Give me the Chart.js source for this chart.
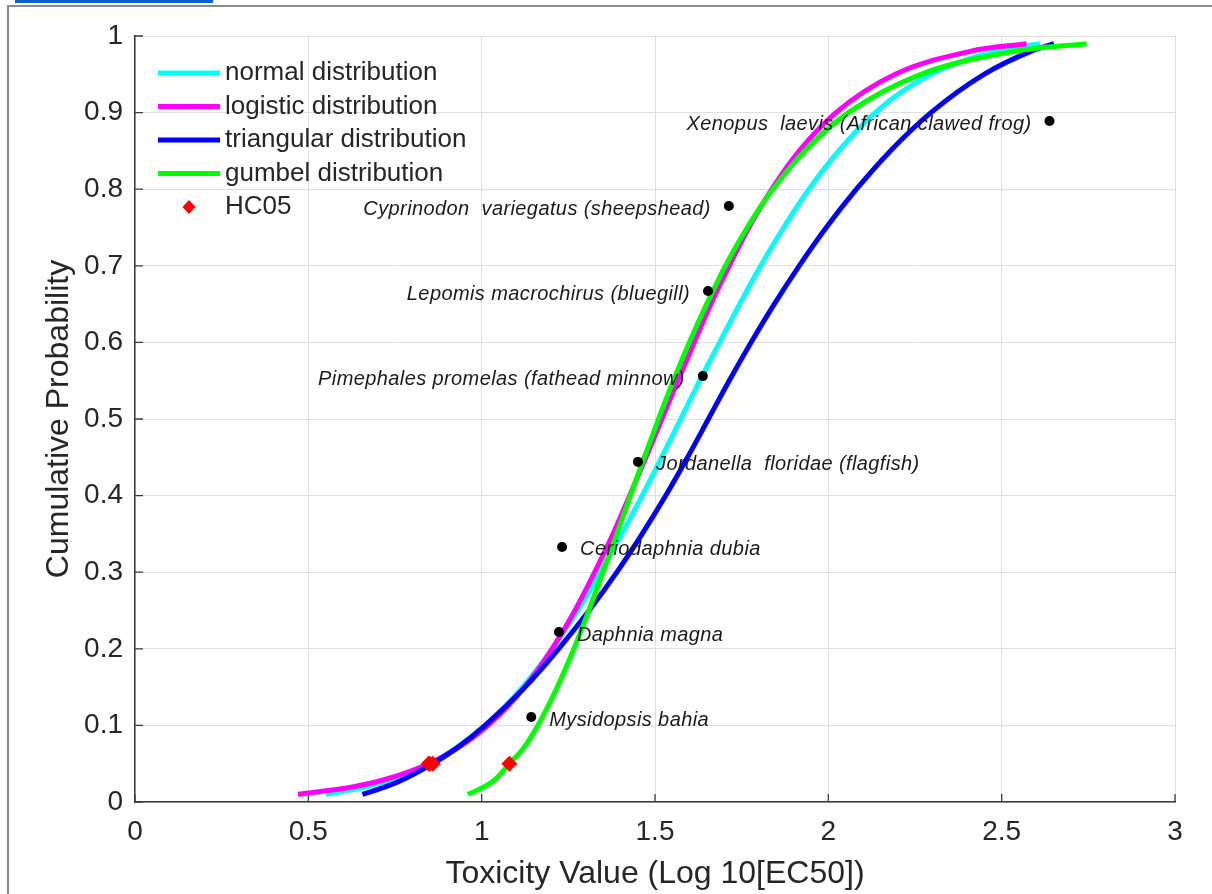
<!DOCTYPE html>
<html>
<head>
<meta charset="utf-8">
<script src="https://cdn.jsdelivr.net/npm/chart.js@4.4.0/dist/chart.umd.min.js"></script>
<style>
html,body{margin:0;padding:0;background:#fff;width:1212px;height:894px;overflow:hidden;}
#frame{position:absolute;left:7px;top:5px;width:1210px;height:900px;border-left:2px solid #8c8c8c;border-top:2px solid #8c8c8c;}
#bar{position:absolute;left:15px;top:0;width:198px;height:3px;background:#0a64c8;}
#wrap{position:absolute;left:0;top:0;width:1212px;height:894px;}
</style>
</head>
<body>
<div id="frame"></div>
<div id="bar"></div>
<div id="wrap"><canvas id="c" width="1212" height="894"></canvas></div>
<script>
// ---- data ----
const probLevels   = [0.01,0.02,0.03,0.05,0.07,0.10,0.15,0.20,0.25,0.30,0.35,0.40,0.45,0.50,0.55,0.60,0.65,0.70,0.75,0.80,0.85,0.90,0.95,0.98,0.99];
const normalX      = [0.551,0.670,0.746,0.850,0.925,1.010,1.118,1.204,1.277,1.343,1.404,1.463,1.519,1.574,1.629,1.686,1.744,1.805,1.871,1.944,2.030,2.135,2.295,2.480,2.610];
const logisticX    = [0.470,0.631,0.726,0.847,0.929,1.018,1.124,1.203,1.269,1.326,1.379,1.427,1.474,1.520,1.566,1.613,1.661,1.714,1.771,1.837,1.916,2.022,2.193,2.409,2.572];
const triangularX  = [0.656,0.724,0.777,0.859,0.927,1.010,1.125,1.222,1.310,1.390,1.463,1.531,1.594,1.654,1.714,1.777,1.844,1.916,1.994,2.081,2.179,2.296,2.449,2.584,2.651];
const gumbelX      = [0.960,1.008,1.040,1.080,1.120,1.162,1.218,1.266,1.309,1.350,1.390,1.429,1.469,1.510,1.553,1.599,1.649,1.703,1.766,1.840,1.932,2.058,2.267,2.538,2.745];

const hc05X = [0.850, 0.847, 0.859, 1.080];
const hc05Y = [0.05, 0.05, 0.05, 0.05];

const speciesNames = ['Mysidopsis bahia','Daphnia magna','Ceriodaphnia dubia','Jordanella  floridae (flagfish)',
                      'Pimephales promelas (fathead minnow)','Lepomis macrochirus (bluegill)',
                      'Cyprinodon  variegatus (sheepshead)','Xenopus  laevis (African clawed frog)'];
const speciesX = [1.143,1.223,1.232,1.451,1.638,1.653,1.713,2.638];
const speciesY = [0.111,0.222,0.333,0.444,0.556,0.667,0.778,0.889];

const xTicks = [0,0.5,1,1.5,2,2.5,3];
const xTickLabels = ['0','0.5','1','1.5','2','2.5','3'];
const yTicks = [0,0.1,0.2,0.3,0.4,0.5,0.6,0.7,0.8,0.9,1];
const yTickLabels = ['0','0.1','0.2','0.3','0.4','0.5','0.6','0.7','0.8','0.9','1'];

const seriesNames = ['normal distribution','logistic distribution','triangular distribution','gumbel distribution'];
const seriesX = [normalX, logisticX, triangularX, gumbelX];
const seriesColors = ['#00ffff','#ff00ff','#0000ff','#00ff00'];

// ---- chart ----
const FONT = "Arial, 'Liberation Sans', Helvetica, sans-serif";
const TXT = '#262626';

const curveSets = seriesX.map((xs, i) => ({
  label: seriesNames[i],
  data: xs.map((x, k) => ({x: x, y: probLevels[k]})),
  showLine: true,
  borderColor: seriesColors[i],
  backgroundColor: seriesColors[i],
  borderWidth: 5,
  pointRadius: 0,
  pointHoverRadius: 0,
  cubicInterpolationMode: 'monotone',
  fill: false,
  order: 10 - i
}));

const pointSet = {
  label: 'species',
  data: speciesX.map((x, k) => ({x: x, y: speciesY[k]})),
  showLine: false,
  pointRadius: 5,
  pointBorderWidth: 0,
  backgroundColor: '#000',
  borderColor: '#000',
  order: 2
};
const hcSet = {
  label: 'HC05',
  data: hc05X.map((x, k) => ({x: x, y: hc05Y[k]})),
  showLine: false,
  pointStyle: 'rectRot',
  pointRadius: 8,
  pointBorderWidth: 0,
  backgroundColor: '#ff0000',
  borderColor: '#ff0000',
  order: 1
};

const inwardTicks = {
  id: 'inwardTicks',
  beforeDatasetsDraw(chart) {
    const {ctx, chartArea: a, scales: {x, y}} = chart;
    ctx.save();
    ctx.strokeStyle = '#3c3c3c';
    ctx.lineWidth = 1.3;
    ctx.beginPath();
    xTicks.forEach(v => { const px = x.getPixelForValue(v); ctx.moveTo(px, a.bottom); ctx.lineTo(px, a.bottom - 8); });
    yTicks.forEach(v => { const py = y.getPixelForValue(v); ctx.moveTo(a.left, py); ctx.lineTo(a.left + 8, py); });
    ctx.stroke();
    ctx.restore();
  }
};

const labelRight = [true, true, true, true, false, false, false, false];
const speciesLabels = {
  id: 'speciesLabels',
  afterDatasetsDraw(chart) {
    const {ctx, scales: {x, y}} = chart;
    ctx.save();
    ctx.font = "italic 20px " + FONT;
    ctx.fillStyle = '#1a1a1a';
    ctx.textBaseline = 'middle';
    try { ctx.letterSpacing = '0.4px'; } catch (e) {}
    speciesNames.forEach((name, k) => {
      const px = x.getPixelForValue(speciesX[k]);
      const py = y.getPixelForValue(speciesY[k]) + 3;
      if (labelRight[k]) { ctx.textAlign = 'left'; ctx.fillText(name, px + 18, py); }
      else { ctx.textAlign = 'right'; ctx.fillText(name, px - 18, py); }
    });
    ctx.restore();
  }
};

const customLegend = {
  id: 'customLegend',
  afterDraw(chart) {
    const {ctx, chartArea: a} = chart;
    ctx.save();
    ctx.font = "26px " + FONT;
    ctx.fillStyle = TXT;
    ctx.textBaseline = 'middle';
    ctx.textAlign = 'left';
    const rowY = k => a.top + 37 + k * 33.5;
    seriesNames.forEach((name, k) => {
      const yy = rowY(k);
      ctx.strokeStyle = seriesColors[k];
      ctx.lineWidth = 5;
      ctx.beginPath();
      ctx.moveTo(a.left + 23, yy);
      ctx.lineTo(a.left + 85, yy);
      ctx.stroke();
      ctx.fillText(name, a.left + 90, yy);
    });
    const yy = rowY(4);
    const cx = a.left + 54;
    ctx.fillStyle = '#ff0000';
    ctx.beginPath();
    ctx.moveTo(cx - 6.5, yy); ctx.lineTo(cx, yy - 7); ctx.lineTo(cx + 6.5, yy); ctx.lineTo(cx, yy + 7);
    ctx.closePath();
    ctx.fill();
    ctx.fillStyle = TXT;
    ctx.fillText('HC05', a.left + 90, yy);
    ctx.restore();
  }
};

new Chart(document.getElementById('c'), {
  type: 'scatter',
  data: { datasets: [...curveSets, pointSet, hcSet] },
  options: {
    responsive: false,
    devicePixelRatio: 1,
    animation: false,
    events: [],
    layout: { padding: { left: 0, top: 36, right: 37, bottom: 0 } },
    plugins: { legend: { display: false }, tooltip: { enabled: false } },
    scales: {
      x: {
        type: 'linear', min: 0, max: 3,
        afterBuildTicks: s => { s.ticks = xTicks.map(v => ({value: v})); },
        afterFit: s => { s.height = 92; },
        ticks: { padding: 13.5, color: TXT, font: { family: FONT, size: 28 }, callback: (v, i) => xTickLabels[i] },
        grid: { color: '#dfdfdf', lineWidth: 1, drawTicks: false },
        border: { display: true, color: '#3c3c3c', width: 1.5 },
        title: { display: true, text: 'Toxicity Value (Log 10[EC50])', color: TXT, font: { family: FONT, size: 32 }, padding: { top: 0, bottom: 1 } }
      },
      y: {
        type: 'linear', min: 0, max: 1,
        afterBuildTicks: s => { s.ticks = yTicks.map(v => ({value: v})); },
        afterFit: s => { s.width = 135; },
        ticks: { padding: 12, color: TXT, font: { family: FONT, size: 28 }, callback: (v, i) => yTickLabels[i] },
        grid: { color: '#dfdfdf', lineWidth: 1, drawTicks: false },
        border: { display: true, color: '#3c3c3c', width: 1.5 },
        title: { display: true, text: 'Cumulative Probability', color: TXT, font: { family: FONT, size: 32 }, padding: { top: 40, bottom: 0 } }
      }
    }
  },
  plugins: [inwardTicks, speciesLabels, customLegend]
});
</script>
</body>
</html>
